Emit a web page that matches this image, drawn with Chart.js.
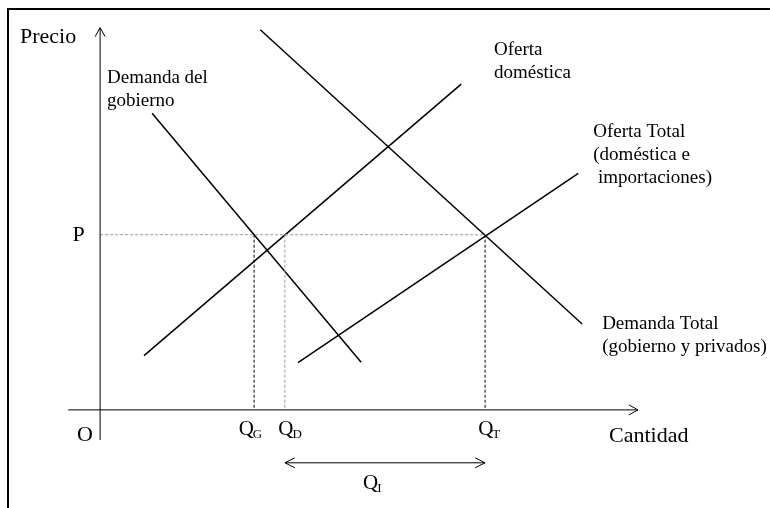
<!DOCTYPE html>
<html>
<head>
<meta charset="utf-8">
<script src="https://cdn.jsdelivr.net/npm/chart.js@4"></script>
<style>
  html, body { margin: 0; padding: 0; background: #fff; }
  #wrap { position: relative; width: 770px; height: 508px; }
  #frame { position: absolute; left: 7px; top: 8px; right: 0; bottom: 0;
           border-top: 2px solid #000; border-left: 2px solid #000; pointer-events: none; }
</style>
</head>
<body>
<div id="wrap">
  <canvas id="chart" width="770" height="508"></canvas>
  <div id="frame"></div>
</div>
<script>
// curves, as [quantity, price] end points
const govDemand = [[1.35, 8.47], [6.78, 1.36]];
const domSupply = [[1.14, 1.55], [9.38, 9.3]];
const totalDemand = [[4.16, 10.85], [12.52, 2.45]];
const totalSupply = [[5.14, 1.35], [12.42, 6.75]];

// equilibrium values
const price = 5;
const qG = 4;
const qD = 4.8;
const qT = 10;

// axis extents
const xAxisRange = [-0.83, 13.97];
const yAxisRange = [-0.86, 10.91];
const importsLevel = -1.51;

const SERIF = "'Liberation Serif', 'Times New Roman', serif";

const pts = arr => arr.map(p => ({x: p[0], y: p[1]}));

function lineSet(data, color, width, dash) {
    return {
        type: "line",
        data: data,
        borderColor: color,
        borderWidth: width,
        borderDash: dash || [],
        pointRadius: 0,
        showLine: true,
        fill: false,
        tension: 0
    };
}

const labels = [
    {text: "Precio", x: -2.08, y: 10.65, size: 22},
    {text: "Demanda del", x: 0.18, y: 9.46, size: 19},
    {text: "gobierno", x: 0.18, y: 8.83, size: 19},
    {text: "Oferta", x: 10.23, y: 10.28, size: 19},
    {text: "doméstica", x: 10.23, y: 9.62, size: 19},
    {text: "Oferta Total", x: 12.81, y: 7.94, size: 19},
    {text: "(doméstica e", x: 12.81, y: 7.28, size: 19},
    {text: " importaciones)", x: 12.81, y: 6.62, size: 19},
    {text: "Demanda Total", x: 13.04, y: 2.45, size: 19},
    {text: "(gobierno y privados)", x: 13.04, y: 1.8, size: 19},
    {text: "P", x: -0.72, y: price, size: 22},
    {text: "O", x: -0.6, y: -0.71, size: 22},
    {text: "Cantidad", x: 13.22, y: -0.74, size: 22}
];

const qLabels = [
    {sub: "G", x: qG - 0.4, y: -0.57},
    {sub: "D", x: qD - 0.17, y: -0.57},
    {sub: "T", x: qT - 0.18, y: -0.57},
    {sub: "I", x: 6.83, y: -2.11}
];

function arrowHead(ctx, tipX, tipY, dx, dy, len, half) {
    // dx,dy: unit direction the arrow points to
    const bx = tipX - dx * len, by = tipY - dy * len;
    ctx.beginPath();
    ctx.moveTo(bx - dy * half, by + dx * half);
    ctx.lineTo(tipX, tipY);
    ctx.lineTo(bx + dy * half, by - dx * half);
    ctx.stroke();
}

const annotate = {
    id: "annotate",
    afterDatasetsDraw(chart) {
        const ctx = chart.ctx;
        const xs = chart.scales.x, ys = chart.scales.y;
        ctx.save();
        ctx.strokeStyle = "#000";
        ctx.lineWidth = 1;
        // axis arrows
        arrowHead(ctx, xs.getPixelForValue(xAxisRange[1]), ys.getPixelForValue(0), 1, 0, 9, 5);
        arrowHead(ctx, xs.getPixelForValue(0), ys.getPixelForValue(yAxisRange[1]), 0, -1, 9, 5);
        // import arrows
        const iy = ys.getPixelForValue(importsLevel);
        arrowHead(ctx, xs.getPixelForValue(qD), iy, -1, 0, 10, 5);
        arrowHead(ctx, xs.getPixelForValue(qT), iy, 1, 0, 10, 5);

        ctx.fillStyle = "#000";
        ctx.textBaseline = "middle";
        ctx.textAlign = "left";
        labels.forEach(l => {
            ctx.font = l.size + "px " + SERIF;
            ctx.fillText(l.text, xs.getPixelForValue(l.x), ys.getPixelForValue(l.y));
        });
        qLabels.forEach(l => {
            const px = xs.getPixelForValue(l.x), py = ys.getPixelForValue(l.y);
            ctx.font = "21px " + SERIF;
            ctx.fillText("Q", px, py);
            const w = ctx.measureText("Q").width;
            ctx.font = "13px " + SERIF;
            ctx.fillText(l.sub, px + w - 1, py + 5);
        });
        ctx.restore();
    }
};

const config = {
    type: "scatter",
    data: {
        datasets: [
            lineSet(pts([[xAxisRange[0], 0], [xAxisRange[1], 0]]), "#000", 1),
            lineSet(pts([[0, yAxisRange[0]], [0, yAxisRange[1]]]), "#000", 1),
            lineSet(pts([[0, price], [qT, price]]), "#999", 1, [3, 2]),
            lineSet(pts([[qG, price], [qG, 0]]), "#000", 1, [3, 2]),
            lineSet(pts([[qD, price], [qD, 0]]), "#999", 1, [3, 2]),
            lineSet(pts([[qT, price], [qT, 0]]), "#000", 1, [3, 2]),
            lineSet(pts([[qD, importsLevel], [qT, importsLevel]]), "#000", 1),
            lineSet(pts(govDemand), "#000", 1.5),
            lineSet(pts(domSupply), "#000", 1.5),
            lineSet(pts(totalDemand), "#000", 1.5),
            lineSet(pts(totalSupply), "#000", 1.5)
        ]
    },
    options: {
        responsive: false,
        animation: false,
        events: [],
        layout: {padding: 0},
        plugins: {legend: {display: false}, tooltip: {enabled: false}},
        scales: {
            x: {type: "linear", display: false, min: -2.6, max: 17.4},
            y: {type: "linear", display: false, min: -2.8, max: 11.7}
        }
    },
    plugins: [annotate]
};

new Chart(document.getElementById("chart"), config);
</script>
</body>
</html>
